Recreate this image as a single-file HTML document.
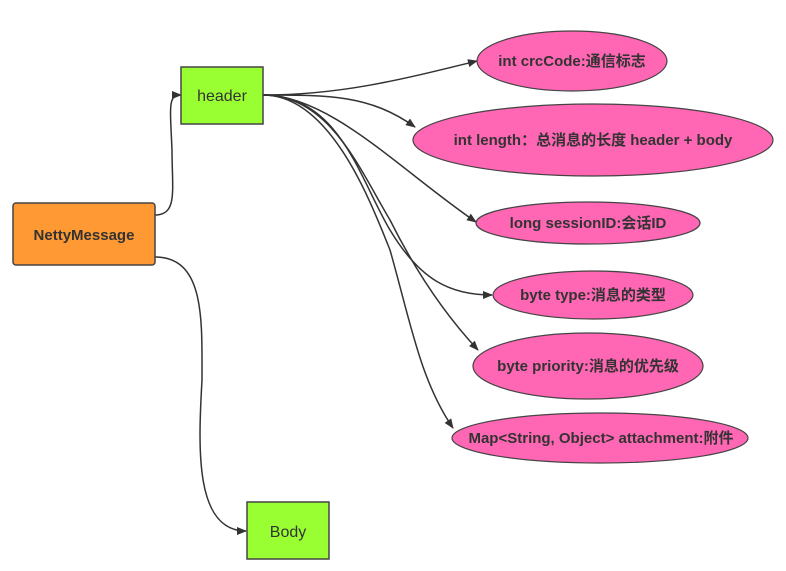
<!DOCTYPE html>
<html><head><meta charset="utf-8"><style>
html,body{margin:0;padding:0;background:#fff;}
svg{display:block;}
text{font-family:"Liberation Sans","Noto Sans CJK SC",sans-serif;fill:#333;}
.b{font-weight:bold;font-size:15px;}
</style></head><body>
<svg width="786" height="571" viewBox="0 0 786 571" xmlns="http://www.w3.org/2000/svg">
<defs><marker id="a" markerWidth="10" markerHeight="8" refX="9" refY="4" orient="auto" markerUnits="userSpaceOnUse"><path d="M0,0 L10,4 L0,8 z" fill="#333"/></marker></defs>
<g fill="none" stroke="#333" stroke-width="1.5" marker-end="url(#a)">
<path d="M155,215 C178,215 172,190 172,150 C170,105 168,95 181,95"/>
<path d="M155,257 C205,257 202,320 202,380 C198,450 195,531 246,531"/>
<path d="M263,95 C340,95 400,80 477,61"/>
<path d="M263,95 C330,95 370,95 415,127"/>
<path d="M263,95 C330,95 400,170 476,222"/>
<path d="M263,95 C340,95 360,180 390,230 C420,280 450,295 492,295"/>
<path d="M263,95 C330,95 360,170 390,220 C420,280 450,320 478,350"/>
<path d="M263,95 C330,95 370,200 390,250 C410,320 420,380 453,428"/>
</g>
<rect x="13" y="203" width="142" height="62" rx="3" fill="#ff9933" stroke="#444" stroke-width="1.5"/>
<text x="84" y="240" text-anchor="middle" class="b">NettyMessage</text>
<rect x="181" y="67" width="82" height="57" fill="#99ff33" stroke="#444" stroke-width="1.5"/>
<text x="222" y="101" text-anchor="middle" font-size="16">header</text>
<rect x="247" y="502" width="82" height="57" fill="#99ff33" stroke="#444" stroke-width="1.5"/>
<text x="288" y="537" text-anchor="middle" font-size="16">Body</text>
<g fill="#ff66b3" stroke="#444" stroke-width="1.2">
<ellipse cx="572" cy="61" rx="95" ry="30"/>
<ellipse cx="593" cy="140" rx="180" ry="36"/>
<ellipse cx="588" cy="223" rx="112" ry="21"/>
<ellipse cx="593" cy="295" rx="100" ry="24"/>
<ellipse cx="588" cy="366" rx="115" ry="33"/>
<ellipse cx="600" cy="438" rx="148" ry="25"/>
</g>
<g text-anchor="middle">
<text x="572" y="66" class="b">int crcCode:通信标志</text>
<text x="593" y="145" class="b">int length：总消息的长度 header + body</text>
<text x="588" y="228" class="b">long sessionID:会话ID</text>
<text x="593" y="300" class="b">byte type:消息的类型</text>
<text x="588" y="371" class="b">byte priority:消息的优先级</text>
<text x="601" y="443" class="b">Map&lt;String, Object&gt; attachment:附件</text>
</g>
</svg>
</body></html>
